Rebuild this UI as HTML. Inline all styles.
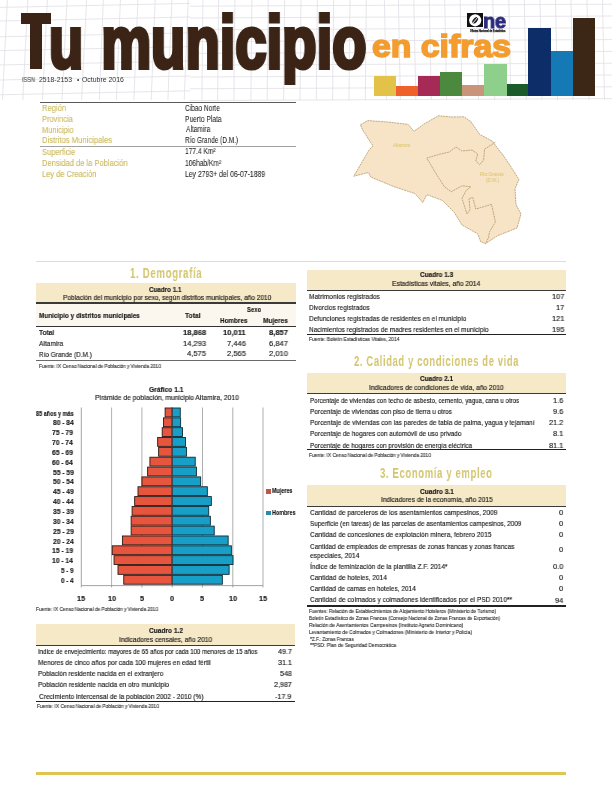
<!DOCTYPE html>
<html><head><meta charset="utf-8"><style>
html,body{margin:0;padding:0;background:#fff;}
#pg{position:relative;width:612px;height:792px;overflow:hidden;background:#fff;font-family:"Liberation Sans",sans-serif;}
.t{position:absolute;white-space:nowrap;transform-origin:0 0;will-change:transform;}
.r{position:absolute;}
</style></head><body><div id="pg">
<svg class="r" style="left:0;top:0" width="612" height="102" viewBox="0 0 612 102"><line x1="7.4" y1="0" x2="2.4" y2="100" stroke="#dfdfe6" stroke-width="0.8"/><line x1="27.8" y1="0" x2="22.8" y2="100" stroke="#dfdfe6" stroke-width="0.8"/><line x1="47.4" y1="0" x2="42.4" y2="100" stroke="#dfdfe6" stroke-width="0.8"/><line x1="67.0" y1="0" x2="62.0" y2="100" stroke="#dfdfe6" stroke-width="0.8"/><line x1="86.6" y1="0" x2="81.6" y2="100" stroke="#dfdfe6" stroke-width="0.8"/><line x1="103.3" y1="0" x2="99.3" y2="100" stroke="#dfdfe6" stroke-width="0.8"/><line x1="120.4" y1="0" x2="116.4" y2="100" stroke="#dfdfe6" stroke-width="0.8"/><line x1="137.9" y1="0" x2="133.9" y2="100" stroke="#dfdfe6" stroke-width="0.8"/><line x1="155.2" y1="0" x2="151.2" y2="100" stroke="#dfdfe6" stroke-width="0.8"/><line x1="171.9" y1="0" x2="167.9" y2="100" stroke="#dfdfe6" stroke-width="0.8"/><line x1="188.2" y1="0" x2="184.2" y2="100" stroke="#dfdfe6" stroke-width="0.8"/><line x1="202.9" y1="0" x2="201.9" y2="100" stroke="#dfdfe6" stroke-width="0.8"/><line x1="218.6" y1="0" x2="217.6" y2="100" stroke="#dfdfe6" stroke-width="0.8"/><line x1="234.9" y1="0" x2="233.9" y2="100" stroke="#dfdfe6" stroke-width="0.8"/><line x1="251.9" y1="0" x2="250.9" y2="100" stroke="#dfdfe6" stroke-width="0.8"/><line x1="268.2" y1="0" x2="267.2" y2="100" stroke="#dfdfe6" stroke-width="0.8"/><line x1="284.6" y1="0" x2="283.6" y2="100" stroke="#dfdfe6" stroke-width="0.8"/><line x1="301.0" y1="0" x2="300.0" y2="100" stroke="#dfdfe6" stroke-width="0.8"/><line x1="317.3" y1="0" x2="316.3" y2="100" stroke="#dfdfe6" stroke-width="0.8"/><line x1="333.6" y1="0" x2="332.6" y2="100" stroke="#dfdfe6" stroke-width="0.8"/><line x1="350.0" y1="0" x2="349.0" y2="100" stroke="#dfdfe6" stroke-width="0.8"/><line x1="366.3" y1="0" x2="365.3" y2="100" stroke="#dfdfe6" stroke-width="0.8"/><line x1="384.4" y1="0" x2="386.4" y2="100" stroke="#dfdfe6" stroke-width="0.8"/><line x1="398.4" y1="0" x2="400.4" y2="100" stroke="#dfdfe6" stroke-width="0.8"/><line x1="413.8" y1="0" x2="415.8" y2="100" stroke="#dfdfe6" stroke-width="0.8"/><line x1="429.3" y1="0" x2="431.3" y2="100" stroke="#dfdfe6" stroke-width="0.8"/><line x1="444.7" y1="0" x2="446.7" y2="100" stroke="#dfdfe6" stroke-width="0.8"/><line x1="460.1" y1="0" x2="462.1" y2="100" stroke="#dfdfe6" stroke-width="0.8"/><line x1="476.5" y1="0" x2="478.5" y2="100" stroke="#dfdfe6" stroke-width="0.8"/><line x1="492.8" y1="0" x2="494.8" y2="100" stroke="#dfdfe6" stroke-width="0.8"/><line x1="508.8" y1="0" x2="510.8" y2="100" stroke="#dfdfe6" stroke-width="0.8"/><line x1="524.3" y1="0" x2="526.3" y2="100" stroke="#dfdfe6" stroke-width="0.8"/><line x1="540.0" y1="0" x2="542.0" y2="100" stroke="#dfdfe6" stroke-width="0.8"/><line x1="555.5" y1="0" x2="557.5" y2="100" stroke="#dfdfe6" stroke-width="0.8"/><line x1="571.0" y1="0" x2="573.0" y2="100" stroke="#dfdfe6" stroke-width="0.8"/><line x1="587.0" y1="0" x2="589.0" y2="100" stroke="#dfdfe6" stroke-width="0.8"/><line x1="602.5" y1="0" x2="604.5" y2="100" stroke="#dfdfe6" stroke-width="0.8"/><line x1="0" y1="7.4" x2="190" y2="3.4" stroke="#dfdfe6" stroke-width="0.8"/><line x1="0" y1="21.0" x2="190" y2="17.0" stroke="#dfdfe6" stroke-width="0.8"/><line x1="0" y1="36.8" x2="190" y2="32.8" stroke="#dfdfe6" stroke-width="0.8"/><line x1="0" y1="50.6" x2="190" y2="46.6" stroke="#dfdfe6" stroke-width="0.8"/><line x1="0" y1="65.0" x2="190" y2="61.0" stroke="#dfdfe6" stroke-width="0.8"/><line x1="0" y1="80.0" x2="190" y2="76.0" stroke="#dfdfe6" stroke-width="0.8"/><line x1="0" y1="94.8" x2="190" y2="90.8" stroke="#dfdfe6" stroke-width="0.8"/><line x1="190" y1="6.2" x2="612" y2="4.2" stroke="#dfdfe6" stroke-width="0.8"/><line x1="190" y1="18.0" x2="612" y2="16.0" stroke="#dfdfe6" stroke-width="0.8"/><line x1="190" y1="29.8" x2="612" y2="27.8" stroke="#dfdfe6" stroke-width="0.8"/><line x1="190" y1="41.6" x2="612" y2="39.6" stroke="#dfdfe6" stroke-width="0.8"/><line x1="190" y1="53.4" x2="612" y2="51.4" stroke="#dfdfe6" stroke-width="0.8"/><line x1="190" y1="65.2" x2="612" y2="63.2" stroke="#dfdfe6" stroke-width="0.8"/><line x1="190" y1="77.0" x2="612" y2="75.0" stroke="#dfdfe6" stroke-width="0.8"/><line x1="190" y1="88.8" x2="612" y2="86.8" stroke="#dfdfe6" stroke-width="0.8"/><line x1="190" y1="100.6" x2="612" y2="98.6" stroke="#dfdfe6" stroke-width="0.8"/></svg>
<div class="t" style="left:49.30px;top:-3.19px;font-size:75px;line-height:90.0px;font-weight:700;color:#3b2416;transform:scaleX(0.749);word-spacing:3px;-webkit-text-stroke:4.2px #3b2416;">u municipio</div>
<div class="r" style="left:21.20px;top:13.20px;width:30.00px;height:10.40px;background:#3b2416;"></div>
<div class="r" style="left:30.40px;top:23.00px;width:11.60px;height:46.00px;background:#3b2416;"></div>
<div class="t" style="left:371.60px;top:26.91px;font-size:32px;line-height:38.4px;font-weight:700;color:#f39c2f;transform:scaleX(1.056);-webkit-text-stroke:1.6px #f39c2f;">en cifras</div>
<div class="t" style="left:22.00px;top:75.94px;font-size:6.4px;line-height:7.68px;font-weight:400;color:#333;transform:scaleX(0.8753);">ISSN</div>
<div class="t" style="left:39.15px;top:75.94px;font-size:6.4px;line-height:7.68px;font-weight:400;color:#333;transform:scaleX(1.0794);">2518-2153</div>
<div class="t" style="left:76.98px;top:75.54px;font-size:6.4px;line-height:7.68px;font-weight:400;color:#333;transform:scaleX(1.0000);">•</div>
<div class="t" style="left:82.25px;top:75.94px;font-size:6.4px;line-height:7.68px;font-weight:400;color:#333;transform:scaleX(1.0801);">Octubre 2016</div>
<div class="r" style="left:374.00px;top:76.30px;width:21.70px;height:20.00px;background:#e3c24a;"></div>
<div class="r" style="left:395.70px;top:86.00px;width:22.30px;height:10.30px;background:#f0602a;"></div>
<div class="r" style="left:418.00px;top:76.00px;width:21.80px;height:20.30px;background:#a52a55;"></div>
<div class="r" style="left:439.80px;top:71.80px;width:22.00px;height:24.50px;background:#4b8a3e;"></div>
<div class="r" style="left:461.80px;top:84.80px;width:22.20px;height:11.50px;background:#c99479;"></div>
<div class="r" style="left:484.00px;top:64.00px;width:22.50px;height:32.30px;background:#8fcf8c;"></div>
<div class="r" style="left:506.50px;top:84.00px;width:21.50px;height:12.30px;background:#1c5c2c;"></div>
<div class="r" style="left:528.00px;top:27.60px;width:22.60px;height:68.70px;background:#0d2d68;"></div>
<div class="r" style="left:550.60px;top:51.00px;width:22.00px;height:45.30px;background:#1479b5;"></div>
<div class="r" style="left:572.60px;top:17.80px;width:22.10px;height:78.50px;background:#3c2616;"></div>
<div class="r" style="left:467.00px;top:13.00px;width:16.00px;height:14.30px;background:#111;"></div>
<svg class="r" style="left:467px;top:13px" width="16" height="14.3" viewBox="0 0 16 14.3"><circle cx="8.2" cy="7.3" r="6.1" fill="#fff"/><ellipse cx="8.2" cy="7.3" rx="3.7" ry="2.1" transform="rotate(-50 8.2 7.3)" fill="#1a1a2a"/><line x1="5.6" y1="10.4" x2="10.8" y2="4.2" stroke="#fff" stroke-width="0.9"/></svg>
<div class="t" style="left:482.60px;top:7.72px;font-size:21px;line-height:25.2px;font-weight:700;color:#2b2a7c;transform:scaleX(0.95);-webkit-text-stroke:0.9px #2b2a7c;letter-spacing:-0.3px;">ne</div>
<div class="t" style="left:469.70px;top:28.79px;font-size:3.6px;line-height:4.32px;font-weight:700;color:#111;transform:scaleX(0.6663);-webkit-text-stroke:0.25px #111;">Oficina Nacional de Estadística</div>
<div class="r" style="left:40.00px;top:102.00px;width:256.00px;height:1.20px;background:#5a5a5a;"></div>
<div class="r" style="left:40.00px;top:146.00px;width:256.00px;height:0.80px;background:#a0a0a0;"></div>
<div class="t" style="left:42.19px;top:103.08px;font-size:9px;line-height:10.8px;font-weight:400;color:#cdbb62;transform:scaleX(0.8462);-webkit-text-stroke:0.15px #cdbb62;">Región</div>
<div class="t" style="left:185.47px;top:103.84px;font-size:8.2px;line-height:9.84px;font-weight:400;color:#1a1a1a;transform:scaleX(0.7983);-webkit-text-stroke:0.05px #1a1a1a;">Cibao Norte</div>
<div class="t" style="left:42.20px;top:114.08px;font-size:9px;line-height:10.8px;font-weight:400;color:#cdbb62;transform:scaleX(0.8300);-webkit-text-stroke:0.15px #cdbb62;">Provincia</div>
<div class="t" style="left:185.27px;top:114.84px;font-size:8.2px;line-height:9.84px;font-weight:400;color:#1a1a1a;transform:scaleX(0.8100);-webkit-text-stroke:0.05px #1a1a1a;">Puerto Plata</div>
<div class="t" style="left:42.20px;top:124.68px;font-size:9px;line-height:10.8px;font-weight:400;color:#cdbb62;transform:scaleX(0.8300);-webkit-text-stroke:0.15px #cdbb62;">Municipio</div>
<div class="t" style="left:185.80px;top:125.44px;font-size:8.2px;line-height:9.84px;font-weight:400;color:#1a1a1a;transform:scaleX(0.8100);-webkit-text-stroke:0.05px #1a1a1a;">Altamira</div>
<div class="t" style="left:42.19px;top:134.88px;font-size:9px;line-height:10.8px;font-weight:400;color:#cdbb62;transform:scaleX(0.8496);-webkit-text-stroke:0.15px #cdbb62;">Distritos Municipales</div>
<div class="t" style="left:185.28px;top:135.64px;font-size:8.2px;line-height:9.84px;font-weight:400;color:#1a1a1a;transform:scaleX(0.7894);-webkit-text-stroke:0.05px #1a1a1a;">Río Grande (D.M.)</div>
<div class="t" style="left:42.43px;top:146.68px;font-size:9px;line-height:10.8px;font-weight:400;color:#cdbb62;transform:scaleX(0.8300);-webkit-text-stroke:0.15px #cdbb62;">Superficie</div>
<div class="t" style="left:185.27px;top:147.44px;font-size:8.2px;line-height:9.84px;font-weight:400;color:#1a1a1a;transform:scaleX(0.8100);-webkit-text-stroke:0.05px #1a1a1a;">177.4 Km²</div>
<div class="t" style="left:42.20px;top:157.78px;font-size:9px;line-height:10.8px;font-weight:400;color:#cdbb62;transform:scaleX(0.8390);-webkit-text-stroke:0.15px #cdbb62;">Densidad de la Población</div>
<div class="t" style="left:185.27px;top:158.54px;font-size:8.2px;line-height:9.84px;font-weight:400;color:#1a1a1a;transform:scaleX(0.8100);-webkit-text-stroke:0.05px #1a1a1a;">106hab/Km²</div>
<div class="t" style="left:42.20px;top:168.78px;font-size:9px;line-height:10.8px;font-weight:400;color:#cdbb62;transform:scaleX(0.8300);-webkit-text-stroke:0.15px #cdbb62;">Ley de Creación</div>
<div class="t" style="left:185.25px;top:169.54px;font-size:8.2px;line-height:9.84px;font-weight:400;color:#1a1a1a;transform:scaleX(0.8362);-webkit-text-stroke:0.05px #1a1a1a;">Ley 2793+ del 06-07-1889</div>
<svg class="r" style="left:0;top:0" width="612" height="260" viewBox="0 0 612 260"><polygon points="360.4,124.7 367.8,120.6 388.0,122.0 408.2,124.4 414.0,131.3 424.0,124.0 438.5,115.8 452.0,117.0 464.0,116.8 470.9,121.7 479.7,134.4 492.5,141.3 497.4,148.1 503.0,155.0 509.0,163.8 519.0,179.5 515.0,188.7 516.0,204.4 521.0,214.0 517.0,228.0 497.4,235.8 485.6,243.6 480.7,241.7 477.7,233.8 462.0,225.0 454.2,212.3 442.5,200.5 426.8,194.6 422.8,202.5 415.0,193.6 393.5,186.5 370.7,177.0 368.5,172.5 353.8,176.2 362.0,162.0 369.3,149.7 373.0,146.0 362.6,129.9" fill="#f7e3c6" stroke="#a88c5c" stroke-width="0.7" stroke-dasharray="2,0.7"/><polyline points="495.4,142.3 484.6,149.0 483.6,160.0 479.7,164.8 475.8,161.0 477.7,154.0 472.0,150.0 462.0,151.0 456.0,147.0 449.3,152.0 440.5,154.0 426.8,158.0 435.0,172.0 444.4,186.8 451.3,191.7 462.0,185.8 470.9,186.8 466.0,190.7 462.0,198.5 467.0,214.0 470.0,210.0 469.0,198.5 472.8,197.5 475.8,209.0 491.5,204.4 495.4,222.0 489.5,231.9 488.5,237.7 485.6,243.6" fill="none" stroke="#a88c5c" stroke-width="0.7" stroke-dasharray="2,0.7"/></svg>
<div class="t" style="left:393.02px;top:141.89px;font-size:5.5px;line-height:6.6px;font-weight:400;color:#d8c264;transform:scaleX(0.8500);">Altamira</div>
<div class="t" style="left:480.34px;top:171.39px;font-size:5.5px;line-height:6.6px;font-weight:400;color:#d8c264;transform:scaleX(0.8500);">Río Grande</div>
<div class="t" style="left:486.03px;top:176.89px;font-size:5.5px;line-height:6.6px;font-weight:400;color:#d8c264;transform:scaleX(0.8500);">(D.M.)</div>
<div class="r" style="left:36.00px;top:260.50px;width:530.00px;height:0.80px;background:#e3dcc0;"></div>
<div class="t" style="left:130.02px;top:266.14px;font-size:13.8px;line-height:16.56px;font-weight:700;color:#d4c670;transform:scaleX(0.7027);letter-spacing:0.9px;">1. Demografía</div>
<div class="t" style="left:354.12px;top:354.04px;font-size:13.8px;line-height:16.56px;font-weight:700;color:#d4c670;transform:scaleX(0.6846);letter-spacing:0.9px;">2. Calidad y condiciones de vida</div>
<div class="t" style="left:380.41px;top:466.44px;font-size:13.8px;line-height:16.56px;font-weight:700;color:#d4c670;transform:scaleX(0.6912);letter-spacing:0.9px;">3. Economía y empleo</div>
<div class="r" style="left:36.00px;top:282.50px;width:259.50px;height:20.20px;background:#f6e9c8;"></div>
<div class="t" style="left:148.75px;top:285.55px;font-size:6.6px;line-height:7.92px;font-weight:700;color:#1a1a1a;transform:scaleX(0.9507);-webkit-text-stroke:0.15px #1a1a1a;">Cuadro 1.1</div>
<div class="t" style="left:63.28px;top:294.27px;font-size:7.0px;line-height:8.4px;font-weight:400;color:#1a1a1a;transform:scaleX(0.9325);-webkit-text-stroke:0.15px #1a1a1a;">Población del municipio por sexo, según distritos municipales, año 2010</div>
<div class="r" style="left:36.00px;top:302.30px;width:259.50px;height:1.30px;background:#3a3a3a;"></div>
<div class="r" style="left:36.00px;top:303.60px;width:259.50px;height:22.40px;background:#fcf7ee;"></div>
<div class="t" style="left:38.75px;top:311.41px;font-size:7.6px;line-height:9.12px;font-weight:700;color:#1a1a1a;transform:scaleX(0.8414);-webkit-text-stroke:0.15px #1a1a1a;">Municipio y distritos municipales</div>
<div class="t" style="left:185.43px;top:311.01px;font-size:7.6px;line-height:9.12px;font-weight:700;color:#1a1a1a;transform:scaleX(0.8870);-webkit-text-stroke:0.15px #1a1a1a;">Total</div>
<div class="t" style="left:247.42px;top:305.21px;font-size:7.6px;line-height:9.12px;font-weight:700;color:#1a1a1a;transform:scaleX(0.7827);-webkit-text-stroke:0.15px #1a1a1a;">Sexo</div>
<div class="t" style="left:220.36px;top:316.31px;font-size:7.6px;line-height:9.12px;font-weight:700;color:#1a1a1a;transform:scaleX(0.8336);-webkit-text-stroke:0.15px #1a1a1a;">Hombres</div>
<div class="t" style="left:262.84px;top:316.31px;font-size:7.6px;line-height:9.12px;font-weight:700;color:#1a1a1a;transform:scaleX(0.8676);-webkit-text-stroke:0.15px #1a1a1a;">Mujeres</div>
<div class="r" style="left:36.00px;top:325.70px;width:259.50px;height:1.00px;background:#333;"></div>
<div class="t" style="left:39.13px;top:327.82px;font-size:7.8px;line-height:9.36px;font-weight:700;color:#1a1a1a;transform:scaleX(0.8413);-webkit-text-stroke:0.15px #1a1a1a;">Total</div>
<div class="t" style="left:39.20px;top:339.02px;font-size:7.8px;line-height:9.36px;font-weight:400;color:#1a1a1a;transform:scaleX(0.8454);-webkit-text-stroke:0.15px #1a1a1a;">Altamira</div>
<div class="t" style="left:38.69px;top:350.42px;font-size:7.8px;line-height:9.36px;font-weight:400;color:#1a1a1a;transform:scaleX(0.8251);-webkit-text-stroke:0.15px #1a1a1a;">Río Grande (D.M.)</div>
<div class="t" style="left:182.58px;top:327.62px;font-size:7.8px;line-height:9.36px;font-weight:700;color:#1a1a1a;transform:scaleX(0.9700);-webkit-text-stroke:0.15px #1a1a1a;">18,868</div>
<div class="t" style="left:223.15px;top:327.62px;font-size:7.8px;line-height:9.36px;font-weight:700;color:#1a1a1a;transform:scaleX(0.9700);-webkit-text-stroke:0.15px #1a1a1a;">10,011</div>
<div class="t" style="left:268.89px;top:327.62px;font-size:7.8px;line-height:9.36px;font-weight:700;color:#1a1a1a;transform:scaleX(0.9700);-webkit-text-stroke:0.15px #1a1a1a;">8,857</div>
<div class="t" style="left:182.73px;top:338.62px;font-size:7.8px;line-height:9.36px;font-weight:400;color:#1a1a1a;transform:scaleX(0.9700);-webkit-text-stroke:0.15px #1a1a1a;">14,293</div>
<div class="t" style="left:227.09px;top:338.62px;font-size:7.8px;line-height:9.36px;font-weight:400;color:#1a1a1a;transform:scaleX(0.9700);-webkit-text-stroke:0.15px #1a1a1a;">7,446</div>
<div class="t" style="left:268.89px;top:338.62px;font-size:7.8px;line-height:9.36px;font-weight:400;color:#1a1a1a;transform:scaleX(0.9700);-webkit-text-stroke:0.15px #1a1a1a;">6,847</div>
<div class="t" style="left:186.81px;top:349.42px;font-size:7.8px;line-height:9.36px;font-weight:400;color:#1a1a1a;transform:scaleX(0.9700);-webkit-text-stroke:0.15px #1a1a1a;">4,575</div>
<div class="t" style="left:227.01px;top:349.42px;font-size:7.8px;line-height:9.36px;font-weight:400;color:#1a1a1a;transform:scaleX(0.9700);-webkit-text-stroke:0.15px #1a1a1a;">2,565</div>
<div class="t" style="left:268.81px;top:349.42px;font-size:7.8px;line-height:9.36px;font-weight:400;color:#1a1a1a;transform:scaleX(0.9700);-webkit-text-stroke:0.15px #1a1a1a;">2,010</div>
<div class="r" style="left:36.00px;top:360.00px;width:259.50px;height:0.80px;background:#6a6a6a;"></div>
<div class="t" style="left:38.52px;top:362.87px;font-size:5.0px;line-height:6.0px;font-weight:400;color:#2a2a2a;transform:scaleX(0.9616);-webkit-text-stroke:0.1px #2a2a2a;">Fuente: IX Censo Nacional de Población y Vivienda 2010</div>
<div class="t" style="left:148.53px;top:386.29px;font-size:7.2px;line-height:8.64px;font-weight:700;color:#1a1a1a;transform:scaleX(0.9259);-webkit-text-stroke:0.15px #1a1a1a;">Gráfico 1.1</div>
<div class="t" style="left:94.66px;top:394.09px;font-size:7.2px;line-height:8.64px;font-weight:400;color:#1a1a1a;transform:scaleX(0.9375);-webkit-text-stroke:0.15px #1a1a1a;">Pirámide de población, municipio Altamira, 2010</div>
<svg class="r" style="left:0;top:0" width="612" height="620" viewBox="0 0 612 620"><line x1="81.3" y1="407.5" x2="81.3" y2="585.5" stroke="#8a8a8a" stroke-width="0.8"/><line x1="111.6" y1="407.5" x2="111.6" y2="585.5" stroke="#9a9a9a" stroke-width="0.8"/><line x1="141.9" y1="407.5" x2="141.9" y2="585.5" stroke="#9a9a9a" stroke-width="0.8"/><line x1="202.5" y1="407.5" x2="202.5" y2="585.5" stroke="#9a9a9a" stroke-width="0.8"/><line x1="232.8" y1="407.5" x2="232.8" y2="585.5" stroke="#9a9a9a" stroke-width="0.8"/><line x1="263.0" y1="407.5" x2="263.0" y2="585.5" stroke="#9a9a9a" stroke-width="0.8"/><line x1="81.3" y1="585.6" x2="263.0" y2="585.6" stroke="#8a8a8a" stroke-width="0.8"/><line x1="81.3" y1="585.6" x2="81.3" y2="587.4" stroke="#8a8a8a" stroke-width="0.8"/><line x1="111.6" y1="585.6" x2="111.6" y2="587.4" stroke="#8a8a8a" stroke-width="0.8"/><line x1="141.9" y1="585.6" x2="141.9" y2="587.4" stroke="#8a8a8a" stroke-width="0.8"/><line x1="172.2" y1="585.6" x2="172.2" y2="587.4" stroke="#8a8a8a" stroke-width="0.8"/><line x1="202.5" y1="585.6" x2="202.5" y2="587.4" stroke="#8a8a8a" stroke-width="0.8"/><line x1="232.8" y1="585.6" x2="232.8" y2="587.4" stroke="#8a8a8a" stroke-width="0.8"/><line x1="263.0" y1="585.6" x2="263.0" y2="587.4" stroke="#8a8a8a" stroke-width="0.8"/><rect x="165.11" y="408.00" width="7.09" height="8.84" fill="#e8553e" stroke="#2a1a14" stroke-width="0.9"/><rect x="172.20" y="408.00" width="8.06" height="8.84" fill="#179fc8" stroke="#0e2a36" stroke-width="0.9"/><rect x="163.48" y="417.84" width="8.72" height="8.84" fill="#e8553e" stroke="#2a1a14" stroke-width="0.9"/><rect x="172.20" y="417.84" width="8.42" height="8.84" fill="#179fc8" stroke="#0e2a36" stroke-width="0.9"/><rect x="162.21" y="427.69" width="9.99" height="8.84" fill="#e8553e" stroke="#2a1a14" stroke-width="0.9"/><rect x="172.20" y="427.69" width="10.30" height="8.84" fill="#179fc8" stroke="#0e2a36" stroke-width="0.9"/><rect x="157.66" y="437.53" width="14.54" height="8.84" fill="#e8553e" stroke="#2a1a14" stroke-width="0.9"/><rect x="172.20" y="437.53" width="13.26" height="8.84" fill="#179fc8" stroke="#0e2a36" stroke-width="0.9"/><rect x="158.63" y="447.38" width="13.57" height="8.84" fill="#e8553e" stroke="#2a1a14" stroke-width="0.9"/><rect x="172.20" y="447.38" width="14.23" height="8.84" fill="#179fc8" stroke="#0e2a36" stroke-width="0.9"/><rect x="149.91" y="457.22" width="22.29" height="8.84" fill="#e8553e" stroke="#2a1a14" stroke-width="0.9"/><rect x="172.20" y="457.22" width="23.02" height="8.84" fill="#179fc8" stroke="#0e2a36" stroke-width="0.9"/><rect x="147.61" y="467.07" width="24.59" height="8.84" fill="#e8553e" stroke="#2a1a14" stroke-width="0.9"/><rect x="172.20" y="467.07" width="24.23" height="8.84" fill="#179fc8" stroke="#0e2a36" stroke-width="0.9"/><rect x="141.92" y="476.91" width="30.28" height="8.84" fill="#e8553e" stroke="#2a1a14" stroke-width="0.9"/><rect x="172.20" y="476.91" width="28.47" height="8.84" fill="#179fc8" stroke="#0e2a36" stroke-width="0.9"/><rect x="137.98" y="486.76" width="34.22" height="8.84" fill="#e8553e" stroke="#2a1a14" stroke-width="0.9"/><rect x="172.20" y="486.76" width="35.13" height="8.84" fill="#179fc8" stroke="#0e2a36" stroke-width="0.9"/><rect x="134.65" y="496.60" width="37.55" height="8.84" fill="#e8553e" stroke="#2a1a14" stroke-width="0.9"/><rect x="172.20" y="496.60" width="39.13" height="8.84" fill="#179fc8" stroke="#0e2a36" stroke-width="0.9"/><rect x="132.10" y="506.44" width="40.10" height="8.84" fill="#e8553e" stroke="#2a1a14" stroke-width="0.9"/><rect x="172.20" y="506.44" width="36.52" height="8.84" fill="#179fc8" stroke="#0e2a36" stroke-width="0.9"/><rect x="131.14" y="516.29" width="41.06" height="8.84" fill="#e8553e" stroke="#2a1a14" stroke-width="0.9"/><rect x="172.20" y="516.29" width="38.16" height="8.84" fill="#179fc8" stroke="#0e2a36" stroke-width="0.9"/><rect x="131.14" y="526.13" width="41.06" height="8.84" fill="#e8553e" stroke="#2a1a14" stroke-width="0.9"/><rect x="172.20" y="526.13" width="42.03" height="8.84" fill="#179fc8" stroke="#0e2a36" stroke-width="0.9"/><rect x="122.41" y="535.98" width="49.79" height="8.84" fill="#e8553e" stroke="#2a1a14" stroke-width="0.9"/><rect x="172.20" y="535.98" width="55.96" height="8.84" fill="#179fc8" stroke="#0e2a36" stroke-width="0.9"/><rect x="112.24" y="545.82" width="59.96" height="8.84" fill="#e8553e" stroke="#2a1a14" stroke-width="0.9"/><rect x="172.20" y="545.82" width="59.17" height="8.84" fill="#179fc8" stroke="#0e2a36" stroke-width="0.9"/><rect x="114.06" y="555.67" width="58.14" height="8.84" fill="#e8553e" stroke="#2a1a14" stroke-width="0.9"/><rect x="172.20" y="555.67" width="60.81" height="8.84" fill="#179fc8" stroke="#0e2a36" stroke-width="0.9"/><rect x="117.99" y="565.51" width="54.21" height="8.84" fill="#e8553e" stroke="#2a1a14" stroke-width="0.9"/><rect x="172.20" y="565.51" width="56.93" height="8.84" fill="#179fc8" stroke="#0e2a36" stroke-width="0.9"/><rect x="123.75" y="575.36" width="48.45" height="8.84" fill="#e8553e" stroke="#2a1a14" stroke-width="0.9"/><rect x="172.20" y="575.36" width="50.15" height="8.84" fill="#179fc8" stroke="#0e2a36" stroke-width="0.9"/><line x1="172.2" y1="407.5" x2="172.2" y2="585.5" stroke="#555" stroke-width="0.6"/></svg>
<div class="t" style="left:35.74px;top:409.57px;font-size:7px;line-height:8.4px;font-weight:700;color:#1a1a1a;transform:scaleX(0.7850);-webkit-text-stroke:0.15px #1a1a1a;">85 años y más</div>
<div class="t" style="left:52.50px;top:419.42px;font-size:7px;line-height:8.4px;font-weight:700;color:#1a1a1a;transform:scaleX(0.9462);-webkit-text-stroke:0.15px #1a1a1a;">80 - 84</div>
<div class="t" style="left:52.43px;top:429.26px;font-size:7px;line-height:8.4px;font-weight:700;color:#1a1a1a;transform:scaleX(0.9586);-webkit-text-stroke:0.15px #1a1a1a;">75 - 79</div>
<div class="t" style="left:52.43px;top:439.11px;font-size:7px;line-height:8.4px;font-weight:700;color:#1a1a1a;transform:scaleX(0.9493);-webkit-text-stroke:0.15px #1a1a1a;">70 - 74</div>
<div class="t" style="left:52.43px;top:448.95px;font-size:7px;line-height:8.4px;font-weight:700;color:#1a1a1a;transform:scaleX(0.9586);-webkit-text-stroke:0.15px #1a1a1a;">65 - 69</div>
<div class="t" style="left:52.43px;top:458.80px;font-size:7px;line-height:8.4px;font-weight:700;color:#1a1a1a;transform:scaleX(0.9493);-webkit-text-stroke:0.15px #1a1a1a;">60 - 64</div>
<div class="t" style="left:52.50px;top:468.64px;font-size:7px;line-height:8.4px;font-weight:700;color:#1a1a1a;transform:scaleX(0.9555);-webkit-text-stroke:0.15px #1a1a1a;">55 - 59</div>
<div class="t" style="left:52.50px;top:478.49px;font-size:7px;line-height:8.4px;font-weight:700;color:#1a1a1a;transform:scaleX(0.9462);-webkit-text-stroke:0.15px #1a1a1a;">50 - 54</div>
<div class="t" style="left:52.63px;top:488.33px;font-size:7px;line-height:8.4px;font-weight:700;color:#1a1a1a;transform:scaleX(0.9493);-webkit-text-stroke:0.15px #1a1a1a;">45 - 49</div>
<div class="t" style="left:52.63px;top:498.17px;font-size:7px;line-height:8.4px;font-weight:700;color:#1a1a1a;transform:scaleX(0.9401);-webkit-text-stroke:0.15px #1a1a1a;">40 - 44</div>
<div class="t" style="left:52.57px;top:508.02px;font-size:7px;line-height:8.4px;font-weight:700;color:#1a1a1a;transform:scaleX(0.9524);-webkit-text-stroke:0.15px #1a1a1a;">35 - 39</div>
<div class="t" style="left:52.57px;top:517.86px;font-size:7px;line-height:8.4px;font-weight:700;color:#1a1a1a;transform:scaleX(0.9431);-webkit-text-stroke:0.15px #1a1a1a;">30 - 34</div>
<div class="t" style="left:52.50px;top:527.71px;font-size:7px;line-height:8.4px;font-weight:700;color:#1a1a1a;transform:scaleX(0.9555);-webkit-text-stroke:0.15px #1a1a1a;">25 - 29</div>
<div class="t" style="left:52.50px;top:537.55px;font-size:7px;line-height:8.4px;font-weight:700;color:#1a1a1a;transform:scaleX(0.9462);-webkit-text-stroke:0.15px #1a1a1a;">20 - 24</div>
<div class="t" style="left:52.29px;top:547.40px;font-size:7px;line-height:8.4px;font-weight:700;color:#1a1a1a;transform:scaleX(0.9650);-webkit-text-stroke:0.15px #1a1a1a;">15 - 19</div>
<div class="t" style="left:52.30px;top:557.24px;font-size:7px;line-height:8.4px;font-weight:700;color:#1a1a1a;transform:scaleX(0.9555);-webkit-text-stroke:0.15px #1a1a1a;">10 - 14</div>
<div class="t" style="left:60.75px;top:567.09px;font-size:7px;line-height:8.4px;font-weight:700;color:#1a1a1a;transform:scaleX(0.9000);-webkit-text-stroke:0.15px #1a1a1a;">5 - 9</div>
<div class="t" style="left:60.56px;top:576.93px;font-size:7px;line-height:8.4px;font-weight:700;color:#1a1a1a;transform:scaleX(0.9000);-webkit-text-stroke:0.15px #1a1a1a;">0 - 4</div>
<div class="t" style="left:77.20px;top:593.51px;font-size:7.6px;line-height:9.12px;font-weight:700;color:#1a1a1a;transform:scaleX(0.9500);-webkit-text-stroke:0.15px #1a1a1a;">15</div>
<div class="t" style="left:107.52px;top:593.51px;font-size:7.6px;line-height:9.12px;font-weight:700;color:#1a1a1a;transform:scaleX(0.9500);-webkit-text-stroke:0.15px #1a1a1a;">10</div>
<div class="t" style="left:139.90px;top:593.51px;font-size:7.6px;line-height:9.12px;font-weight:700;color:#1a1a1a;transform:scaleX(0.9500);-webkit-text-stroke:0.15px #1a1a1a;">5</div>
<div class="t" style="left:170.18px;top:593.51px;font-size:7.6px;line-height:9.12px;font-weight:700;color:#1a1a1a;transform:scaleX(0.9500);-webkit-text-stroke:0.15px #1a1a1a;">0</div>
<div class="t" style="left:200.46px;top:593.51px;font-size:7.6px;line-height:9.12px;font-weight:700;color:#1a1a1a;transform:scaleX(0.9500);-webkit-text-stroke:0.15px #1a1a1a;">5</div>
<div class="t" style="left:228.65px;top:593.51px;font-size:7.6px;line-height:9.12px;font-weight:700;color:#1a1a1a;transform:scaleX(0.9500);-webkit-text-stroke:0.15px #1a1a1a;">10</div>
<div class="t" style="left:258.90px;top:593.51px;font-size:7.6px;line-height:9.12px;font-weight:700;color:#1a1a1a;transform:scaleX(0.9500);-webkit-text-stroke:0.15px #1a1a1a;">15</div>
<div class="r" style="left:266.00px;top:489.00px;width:4.70px;height:4.50px;background:#c0564a;"></div>
<div class="t" style="left:271.62px;top:487.47px;font-size:7px;line-height:8.4px;font-weight:700;color:#1a1a1a;transform:scaleX(0.7707);-webkit-text-stroke:0.15px #1a1a1a;">Mujeres</div>
<div class="r" style="left:266.00px;top:510.90px;width:4.70px;height:4.10px;background:#2a8aa8;"></div>
<div class="t" style="left:271.62px;top:508.97px;font-size:7px;line-height:8.4px;font-weight:700;color:#1a1a1a;transform:scaleX(0.7768);-webkit-text-stroke:0.15px #1a1a1a;">Hombres</div>
<div class="t" style="left:35.82px;top:605.97px;font-size:5.0px;line-height:6.0px;font-weight:400;color:#2a2a2a;transform:scaleX(0.9624);-webkit-text-stroke:0.1px #2a2a2a;">Fuente: IX Censo Nacional de Población y Vivienda 2010</div>
<div class="r" style="left:36.20px;top:624.40px;width:258.80px;height:20.70px;background:#f6e9c8;"></div>
<div class="t" style="left:148.54px;top:627.15px;font-size:6.6px;line-height:7.92px;font-weight:700;color:#1a1a1a;transform:scaleX(0.9942);-webkit-text-stroke:0.15px #1a1a1a;">Cuadro 1.2</div>
<div class="t" style="left:119.21px;top:635.57px;font-size:7.0px;line-height:8.4px;font-weight:400;color:#1a1a1a;transform:scaleX(0.9415);-webkit-text-stroke:0.15px #1a1a1a;">Indicadores censales, año 2010</div>
<div class="r" style="left:36.20px;top:644.70px;width:258.80px;height:1.30px;background:#3a3a3a;"></div>
<div class="t" style="left:38.45px;top:646.60px;font-size:7.5px;line-height:9.0px;font-weight:400;color:#1a1a1a;transform:scaleX(0.8096);-webkit-text-stroke:0.15px #1a1a1a;">Indice de envejecimiento: mayores de 65 años por cada 100 menores de 15 años</div>
<div class="t" style="left:277.66px;top:646.60px;font-size:7.5px;line-height:9.0px;font-weight:400;color:#1a1a1a;transform:scaleX(0.9500);-webkit-text-stroke:0.15px #1a1a1a;">49.7</div>
<div class="t" style="left:38.48px;top:658.00px;font-size:7.5px;line-height:9.0px;font-weight:400;color:#1a1a1a;transform:scaleX(0.8733);-webkit-text-stroke:0.15px #1a1a1a;">Menores de cinco años por cada 100 mujeres en edad fértil</div>
<div class="t" style="left:277.66px;top:658.00px;font-size:7.5px;line-height:9.0px;font-weight:400;color:#1a1a1a;transform:scaleX(0.9500);-webkit-text-stroke:0.15px #1a1a1a;">31.1</div>
<div class="t" style="left:38.48px;top:669.00px;font-size:7.5px;line-height:9.0px;font-weight:400;color:#1a1a1a;transform:scaleX(0.8709);-webkit-text-stroke:0.15px #1a1a1a;">Población residente nacida en el extranjero</div>
<div class="t" style="left:279.66px;top:669.00px;font-size:7.5px;line-height:9.0px;font-weight:400;color:#1a1a1a;transform:scaleX(0.9500);-webkit-text-stroke:0.15px #1a1a1a;">548</div>
<div class="t" style="left:38.47px;top:680.10px;font-size:7.5px;line-height:9.0px;font-weight:400;color:#1a1a1a;transform:scaleX(0.8790);-webkit-text-stroke:0.15px #1a1a1a;">Población residente nacida en otro municipio</div>
<div class="t" style="left:273.67px;top:680.10px;font-size:7.5px;line-height:9.0px;font-weight:400;color:#1a1a1a;transform:scaleX(0.9500);-webkit-text-stroke:0.15px #1a1a1a;">2,987</div>
<div class="t" style="left:38.67px;top:691.50px;font-size:7.5px;line-height:9.0px;font-weight:400;color:#1a1a1a;transform:scaleX(0.8815);-webkit-text-stroke:0.15px #1a1a1a;">Crecimiento intercensal de la población 2002 - 2010 (%)</div>
<div class="t" style="left:275.31px;top:691.50px;font-size:7.5px;line-height:9.0px;font-weight:400;color:#1a1a1a;transform:scaleX(0.9500);-webkit-text-stroke:0.15px #1a1a1a;">-17.9</div>
<div class="r" style="left:36.20px;top:700.60px;width:258.80px;height:1.50px;background:#222;"></div>
<div class="t" style="left:37.12px;top:703.07px;font-size:5.0px;line-height:6.0px;font-weight:400;color:#2a2a2a;transform:scaleX(0.9616);-webkit-text-stroke:0.1px #2a2a2a;">Fuente: IX Censo Nacional de Población y Vivienda 2010</div>
<div class="r" style="left:307.00px;top:270.00px;width:259.00px;height:20.00px;background:#f6e9c8;"></div>
<div class="t" style="left:419.74px;top:271.35px;font-size:6.6px;line-height:7.92px;font-weight:700;color:#1a1a1a;transform:scaleX(0.9734);-webkit-text-stroke:0.15px #1a1a1a;">Cuadro 1.3</div>
<div class="t" style="left:392.07px;top:280.27px;font-size:7.0px;line-height:8.4px;font-weight:400;color:#1a1a1a;transform:scaleX(0.9527);-webkit-text-stroke:0.15px #1a1a1a;">Estadísticas vitales, año 2014</div>
<div class="r" style="left:307.00px;top:289.60px;width:259.00px;height:1.30px;background:#3a3a3a;"></div>
<div class="t" style="left:309.27px;top:291.82px;font-size:7.8px;line-height:9.36px;font-weight:400;color:#1a1a1a;transform:scaleX(0.8519);-webkit-text-stroke:0.15px #1a1a1a;">Matrimonios registrados</div>
<div class="t" style="left:552.00px;top:291.82px;font-size:7.8px;line-height:9.36px;font-weight:400;color:#1a1a1a;transform:scaleX(0.9500);-webkit-text-stroke:0.15px #1a1a1a;">107</div>
<div class="t" style="left:309.28px;top:302.52px;font-size:7.8px;line-height:9.36px;font-weight:400;color:#1a1a1a;transform:scaleX(0.8315);-webkit-text-stroke:0.15px #1a1a1a;">Divorcios registrados</div>
<div class="t" style="left:556.07px;top:302.52px;font-size:7.8px;line-height:9.36px;font-weight:400;color:#1a1a1a;transform:scaleX(0.9500);-webkit-text-stroke:0.15px #1a1a1a;">17</div>
<div class="t" style="left:309.28px;top:314.02px;font-size:7.8px;line-height:9.36px;font-weight:400;color:#1a1a1a;transform:scaleX(0.8400);-webkit-text-stroke:0.15px #1a1a1a;">Defunciones registradas de residentes en el municipio</div>
<div class="t" style="left:552.00px;top:314.02px;font-size:7.8px;line-height:9.36px;font-weight:400;color:#1a1a1a;transform:scaleX(0.9500);-webkit-text-stroke:0.15px #1a1a1a;">121</div>
<div class="t" style="left:309.28px;top:325.22px;font-size:7.8px;line-height:9.36px;font-weight:400;color:#1a1a1a;transform:scaleX(0.8356);-webkit-text-stroke:0.15px #1a1a1a;">Nacimientos registrados de madres residentes en el municipio</div>
<div class="t" style="left:551.92px;top:325.22px;font-size:7.8px;line-height:9.36px;font-weight:400;color:#1a1a1a;transform:scaleX(0.9500);-webkit-text-stroke:0.15px #1a1a1a;">195</div>
<div class="r" style="left:307.00px;top:334.00px;width:259.00px;height:1.30px;background:#222;"></div>
<div class="t" style="left:309.11px;top:336.27px;font-size:5.0px;line-height:6.0px;font-weight:400;color:#2a2a2a;transform:scaleX(0.9788);-webkit-text-stroke:0.1px #2a2a2a;">Fuente: Boletín Estadísticas Vitales, 2014</div>
<div class="r" style="left:307.00px;top:372.50px;width:259.00px;height:21.00px;background:#f6e9c8;"></div>
<div class="t" style="left:420.14px;top:375.25px;font-size:6.6px;line-height:7.92px;font-weight:700;color:#1a1a1a;transform:scaleX(0.9685);-webkit-text-stroke:0.15px #1a1a1a;">Cuadro 2.1</div>
<div class="t" style="left:369.20px;top:384.17px;font-size:7.0px;line-height:8.4px;font-weight:400;color:#1a1a1a;transform:scaleX(0.9453);-webkit-text-stroke:0.15px #1a1a1a;">Indicadores de condiciones de vida, año 2010</div>
<div class="r" style="left:307.00px;top:393.10px;width:259.00px;height:1.30px;background:#3a3a3a;"></div>
<div class="t" style="left:310.21px;top:395.82px;font-size:7.8px;line-height:9.36px;font-weight:400;color:#1a1a1a;transform:scaleX(0.7856);-webkit-text-stroke:0.15px #1a1a1a;">Porcentaje de viviendas con techo de asbesto, cemento, yagua, cana u otros</div>
<div class="t" style="left:553.27px;top:395.82px;font-size:7.8px;line-height:9.36px;font-weight:400;color:#1a1a1a;transform:scaleX(0.9500);-webkit-text-stroke:0.15px #1a1a1a;">1.6</div>
<div class="t" style="left:310.18px;top:407.02px;font-size:7.8px;line-height:9.36px;font-weight:400;color:#1a1a1a;transform:scaleX(0.8317);-webkit-text-stroke:0.15px #1a1a1a;">Porcentaje de viviendas con piso de tierra u otros</div>
<div class="t" style="left:553.27px;top:407.02px;font-size:7.8px;line-height:9.36px;font-weight:400;color:#1a1a1a;transform:scaleX(0.9500);-webkit-text-stroke:0.15px #1a1a1a;">9.6</div>
<div class="t" style="left:310.18px;top:418.12px;font-size:7.8px;line-height:9.36px;font-weight:400;color:#1a1a1a;transform:scaleX(0.8382);-webkit-text-stroke:0.15px #1a1a1a;">Porcentaje de viviendas con las paredes de tabla de palma, yagua y tejamaní</div>
<div class="t" style="left:549.12px;top:418.12px;font-size:7.8px;line-height:9.36px;font-weight:400;color:#1a1a1a;transform:scaleX(0.9500);-webkit-text-stroke:0.15px #1a1a1a;">21.2</div>
<div class="t" style="left:310.18px;top:429.22px;font-size:7.8px;line-height:9.36px;font-weight:400;color:#1a1a1a;transform:scaleX(0.8317);-webkit-text-stroke:0.15px #1a1a1a;">Porcentaje de hogares con automóvil de uso privado</div>
<div class="t" style="left:553.27px;top:429.22px;font-size:7.8px;line-height:9.36px;font-weight:400;color:#1a1a1a;transform:scaleX(0.9500);-webkit-text-stroke:0.15px #1a1a1a;">8.1</div>
<div class="t" style="left:310.19px;top:440.72px;font-size:7.8px;line-height:9.36px;font-weight:400;color:#1a1a1a;transform:scaleX(0.8225);-webkit-text-stroke:0.15px #1a1a1a;">Porcentaje de hogares con provisión de energía eléctrica</div>
<div class="t" style="left:549.12px;top:440.72px;font-size:7.8px;line-height:9.36px;font-weight:400;color:#1a1a1a;transform:scaleX(0.9500);-webkit-text-stroke:0.15px #1a1a1a;">81.1</div>
<div class="r" style="left:307.00px;top:449.20px;width:259.00px;height:1.30px;background:#222;"></div>
<div class="t" style="left:309.12px;top:452.47px;font-size:5.0px;line-height:6.0px;font-weight:400;color:#2a2a2a;transform:scaleX(0.9616);-webkit-text-stroke:0.1px #2a2a2a;">Fuente: IX Censo Nacional de Población y Vivienda 2010</div>
<div class="r" style="left:307.00px;top:484.50px;width:259.00px;height:21.50px;background:#f6e9c8;"></div>
<div class="t" style="left:419.74px;top:488.35px;font-size:6.6px;line-height:7.92px;font-weight:700;color:#1a1a1a;transform:scaleX(0.9893);-webkit-text-stroke:0.15px #1a1a1a;">Cuadro 3.1</div>
<div class="t" style="left:380.71px;top:495.87px;font-size:7.0px;line-height:8.4px;font-weight:400;color:#1a1a1a;transform:scaleX(0.9377);-webkit-text-stroke:0.15px #1a1a1a;">Indicadores de la economía, año 2015</div>
<div class="r" style="left:307.00px;top:505.60px;width:259.00px;height:1.30px;background:#3a3a3a;"></div>
<div class="t" style="left:310.17px;top:507.62px;font-size:7.8px;line-height:9.36px;font-weight:400;color:#1a1a1a;transform:scaleX(0.8445);-webkit-text-stroke:0.15px #1a1a1a;">Cantidad de parceleros de los asentamientos campesinos, 2009</div>
<div class="t" style="left:559.35px;top:507.62px;font-size:7.8px;line-height:9.36px;font-weight:400;color:#1a1a1a;transform:scaleX(0.9500);-webkit-text-stroke:0.15px #1a1a1a;">0</div>
<div class="t" style="left:310.18px;top:518.72px;font-size:7.8px;line-height:9.36px;font-weight:400;color:#1a1a1a;transform:scaleX(0.8182);-webkit-text-stroke:0.15px #1a1a1a;">Superficie (en tareas) de las parcelas de asentamientos campesinos, 2009</div>
<div class="t" style="left:559.35px;top:518.72px;font-size:7.8px;line-height:9.36px;font-weight:400;color:#1a1a1a;transform:scaleX(0.9500);-webkit-text-stroke:0.15px #1a1a1a;">0</div>
<div class="t" style="left:310.17px;top:529.82px;font-size:7.8px;line-height:9.36px;font-weight:400;color:#1a1a1a;transform:scaleX(0.8455);-webkit-text-stroke:0.15px #1a1a1a;">Cantidad de concesiones de explotación minera, febrero 2015</div>
<div class="t" style="left:559.35px;top:529.82px;font-size:7.8px;line-height:9.36px;font-weight:400;color:#1a1a1a;transform:scaleX(0.9500);-webkit-text-stroke:0.15px #1a1a1a;">0</div>
<div class="t" style="left:310.18px;top:541.62px;font-size:7.8px;line-height:9.36px;font-weight:400;color:#1a1a1a;transform:scaleX(0.8246);-webkit-text-stroke:0.15px #1a1a1a;">Cantidad de empleados de empresas de zonas francas y zonas francas</div>
<div class="t" style="left:559.35px;top:544.92px;font-size:7.8px;line-height:9.36px;font-weight:400;color:#1a1a1a;transform:scaleX(0.9500);-webkit-text-stroke:0.15px #1a1a1a;">0</div>
<div class="t" style="left:310.24px;top:551.12px;font-size:7.8px;line-height:9.36px;font-weight:400;color:#1a1a1a;transform:scaleX(0.8426);-webkit-text-stroke:0.15px #1a1a1a;">especiales, 2014</div>
<div class="t" style="left:310.04px;top:561.92px;font-size:7.8px;line-height:9.36px;font-weight:400;color:#1a1a1a;transform:scaleX(0.8461);-webkit-text-stroke:0.15px #1a1a1a;">Índice de feminización de la plantilla Z.F. 2014*</div>
<div class="t" style="left:553.20px;top:561.92px;font-size:7.8px;line-height:9.36px;font-weight:400;color:#1a1a1a;transform:scaleX(0.9500);-webkit-text-stroke:0.15px #1a1a1a;">0.0</div>
<div class="t" style="left:310.17px;top:573.32px;font-size:7.8px;line-height:9.36px;font-weight:400;color:#1a1a1a;transform:scaleX(0.8455);-webkit-text-stroke:0.15px #1a1a1a;">Cantidad de hoteles, 2014</div>
<div class="t" style="left:559.35px;top:573.42px;font-size:7.8px;line-height:9.36px;font-weight:400;color:#1a1a1a;transform:scaleX(0.9500);-webkit-text-stroke:0.15px #1a1a1a;">0</div>
<div class="t" style="left:310.18px;top:583.82px;font-size:7.8px;line-height:9.36px;font-weight:400;color:#1a1a1a;transform:scaleX(0.8328);-webkit-text-stroke:0.15px #1a1a1a;">Cantidad de camas en hoteles, 2014</div>
<div class="t" style="left:559.35px;top:584.42px;font-size:7.8px;line-height:9.36px;font-weight:400;color:#1a1a1a;transform:scaleX(0.9500);-webkit-text-stroke:0.15px #1a1a1a;">0</div>
<div class="t" style="left:310.17px;top:595.42px;font-size:7.8px;line-height:9.36px;font-weight:400;color:#1a1a1a;transform:scaleX(0.8462);-webkit-text-stroke:0.15px #1a1a1a;">Cantidad de colmados y colmadones identificados por el PSD 2010**</div>
<div class="t" style="left:555.12px;top:595.72px;font-size:7.8px;line-height:9.36px;font-weight:400;color:#1a1a1a;transform:scaleX(0.9500);-webkit-text-stroke:0.15px #1a1a1a;">94</div>
<div class="r" style="left:307.00px;top:605.40px;width:259.00px;height:1.30px;background:#222;"></div>
<div class="t" style="left:309.22px;top:608.48px;font-size:5.3px;line-height:6.36px;font-weight:400;color:#2a2a2a;transform:scaleX(0.9023);-webkit-text-stroke:0.1px #2a2a2a;">Fuentes: Relación de Establecimientos de Alojamiento Hoteleros (Ministerio de Turismo)</div>
<div class="t" style="left:309.22px;top:614.68px;font-size:5.3px;line-height:6.36px;font-weight:400;color:#2a2a2a;transform:scaleX(0.8862);-webkit-text-stroke:0.1px #2a2a2a;">Boletín Estadístico de Zonas Francas (Consejo Nacional de Zonas Francas de Exportación)</div>
<div class="t" style="left:309.21px;top:621.78px;font-size:5.3px;line-height:6.36px;font-weight:400;color:#2a2a2a;transform:scaleX(0.9277);-webkit-text-stroke:0.1px #2a2a2a;">Relación de Asentamientos Campesinos (Instituto Agrario Dominicano)</div>
<div class="t" style="left:309.21px;top:628.68px;font-size:5.3px;line-height:6.36px;font-weight:400;color:#2a2a2a;transform:scaleX(0.9199);-webkit-text-stroke:0.1px #2a2a2a;">Levantamiento de Colmados y Colmadones (Ministerio de Interior y Policía)</div>
<div class="t" style="left:309.51px;top:635.58px;font-size:5.3px;line-height:6.36px;font-weight:400;color:#2a2a2a;transform:scaleX(0.8922);-webkit-text-stroke:0.1px #2a2a2a;">*Z.F.: Zonas Francas</div>
<div class="t" style="left:309.50px;top:641.88px;font-size:5.3px;line-height:6.36px;font-weight:400;color:#2a2a2a;transform:scaleX(0.9288);-webkit-text-stroke:0.1px #2a2a2a;">**PSD: Plan de Seguridad Democrática</div>
<div class="r" style="left:36.00px;top:771.80px;width:530.00px;height:3.20px;background:#e0c552;"></div>
</div></body></html>
